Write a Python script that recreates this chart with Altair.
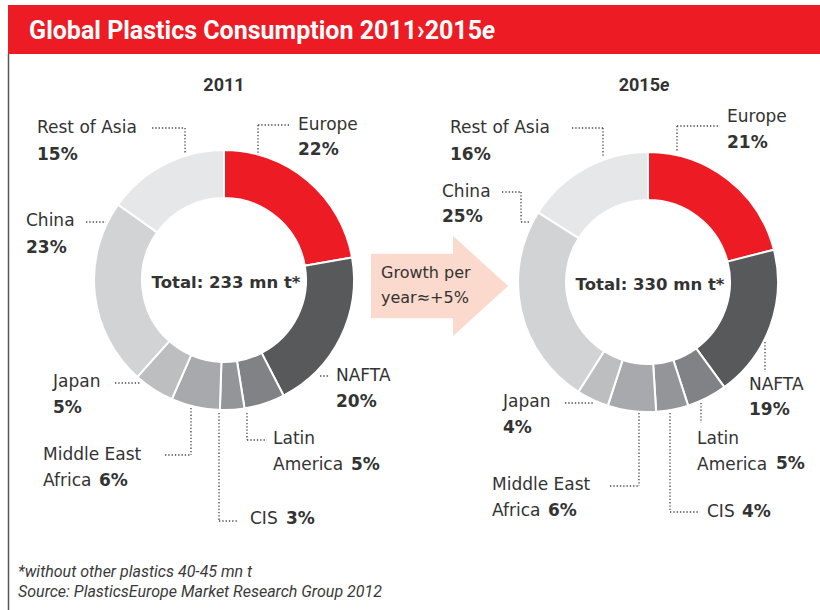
import altair as alt
import pandas as pd

# ---------------- data ----------------
regions = ["Europe", "NAFTA", "Latin America", "CIS", "Middle East Africa",
           "Japan", "China", "Rest of Asia"]
share_2011 = [22, 20, 5, 3, 6, 5, 23, 15]
share_2015 = [21, 19, 5, 4, 6, 4, 25, 16]
year_names = ["2011", "2015"]
year_suffix = ["", "e"]
totals = [233, 330]
growth_text = ["Growth per", "year\u2248+5%"]
title_main = "Global Plastics Consumption 2011\u203a2015"
title_suffix = "e"
footnotes = ["*without other plastics 40-45 mn t",
             "Source: PlasticsEurope Market Research Group 2012"]
name_lines = {"Middle East Africa": ["Middle East", "Africa"],
              "Latin America": ["Latin", "America"]}

# ---------------- styles / layout ----------------
colors = ["#ED1C24", "#58595B", "#808285", "#939598", "#A7A9AC",
          "#BCBEC0", "#D1D3D4", "#E6E7E8"]
TXT = "#333333"
LBL_FONT = "DejaVu Sans"
HDR_FONT = "Roboto"
centers = [(224, 280), (648, 282)]
heading_x = [224, 660]
LINE_H = 26

# label anchor positions per donut: region -> (name_x, name_y, pct_x, pct_y)
label_pos = [
    {"Europe": (298, 125, 298, 150), "NAFTA": (336, 376, 336, 402),
     "Latin America": (273, 439, 351, 465), "CIS": (250, 519, 286, 519),
     "Middle East Africa": (43, 455, 99, 481), "Japan": (53, 382, 53, 408),
     "China": (26, 221, 26, 248), "Rest of Asia": (37, 128, 37, 155)},
    {"Europe": (727, 117, 727, 143), "NAFTA": (749, 385, 749, 410),
     "Latin America": (697, 439, 776, 464), "CIS": (707, 512, 742, 512),
     "Middle East Africa": (492, 485, 548, 511), "Japan": (503, 402, 503, 428),
     "China": (442, 192, 442, 217), "Rest of Asia": (450, 128, 450, 155)},
]
# dotted leader segments (x1, y1, x2, y2)
leaders = [
    (152, 128, 185, 128), (185, 128, 185, 153),
    (258, 125, 290, 125), (258, 125, 258, 155),
    (86, 222, 106, 222),
    (320, 376, 330, 376),
    (115, 383, 140, 383),
    (191, 408, 191, 455), (165, 455, 191, 455),
    (219, 413, 219, 521), (219, 521, 238, 521),
    (247, 413, 247, 440), (247, 440, 267, 440),
    (572, 128, 603, 128), (603, 128, 603, 157),
    (677, 126, 720, 126), (677, 126, 677, 152),
    (502, 192, 521, 192), (521, 192, 521, 222), (521, 222, 530, 222),
    (765, 342, 765, 372),
    (565, 403, 593, 403),
    (639, 413, 639, 486), (610, 486, 639, 486),
    (670, 413, 670, 512), (670, 512, 699, 512),
    (701, 403, 701, 423),
]

# ---------------- build tables ----------------
one = pd.DataFrame({"a": [0]})


def px(field):
    return alt.X(f"{field}:Q", scale=None, axis=None)


def py(field):
    return alt.Y(f"{field}:Q", scale=None, axis=None)


layers = []

# frame
layers.append(alt.Chart(one).mark_rect(color="#ED1C24").encode(
    x=alt.value(8), x2=alt.value(820), y=alt.value(5), y2=alt.value(54)))
layers.append(alt.Chart(one).mark_rule(color="#555555", strokeWidth=1.5).encode(
    x=alt.value(8.5), y=alt.value(54), y2=alt.value(610)))

# title
layers.append(alt.Chart(pd.DataFrame({"t": [title_main]})).mark_text(
    font=HDR_FONT, fontSize=25, fontWeight="bold", color="white",
    align="right", baseline="middle").encode(
    text="t:N", x=alt.value(482), y=alt.value(31)))
layers.append(alt.Chart(pd.DataFrame({"t": [title_suffix]})).mark_text(
    font=HDR_FONT, fontSize=25, fontWeight="bold", fontStyle="italic",
    color="white", align="left", baseline="middle").encode(
    text="t:N", x=alt.value(482), y=alt.value(31)))

# arrow
arrow_path = ("M-1.007,-0.47 L0.19,-0.47 L0.19,-0.73 L0.993,0 L0.19,0.73 "
              "L0.19,0.47 L-1.007,0.47 Z")
layers.append(alt.Chart(one).mark_point(
    shape=arrow_path, filled=True, color="#FBD9CC", opacity=1,
    size=18769, strokeWidth=0).encode(x=alt.value(440), y=alt.value(286)))
layers.append(alt.Chart(pd.DataFrame({"t": growth_text, "y": [273, 298]}))
              .mark_text(font=LBL_FONT, fontSize=16, fontWeight=500, color=TXT,
                         align="left", baseline="middle")
              .encode(text="t:N", x=alt.value(381), y=py("y")))

# donuts
for i, shares in enumerate([share_2011, share_2015]):
    df = pd.DataFrame({"region": regions, "share": shares,
                       "rank": list(range(len(regions)))})
    cx, cy = centers[i]
    layers.append(alt.Chart(df).mark_arc(
        outerRadius=130, innerRadius=82, stroke="white", strokeWidth=2,
        x=cx, y=cy).encode(
        theta=alt.Theta("share:Q", stack="normalize"),
        color=alt.Color("region:N", scale=alt.Scale(domain=regions, range=colors),
                        legend=None),
        order=alt.Order("rank:Q")))

# label tables from data
reg_rows, bold_rows = [], []
for i, shares in enumerate([share_2011, share_2015]):
    for r, s in zip(regions, shares):
        nx, ny, qx, qy = label_pos[i][r]
        for k, line in enumerate(name_lines.get(r, [r])):
            reg_rows.append({"t": line, "x": nx, "y": ny + k * LINE_H})
        bold_rows.append({"t": f"{s}%", "x": qx, "y": qy})

layers.append(alt.Chart(pd.DataFrame(reg_rows)).mark_text(
    font=LBL_FONT, fontSize=17, color=TXT, align="left", baseline="middle"
).encode(text="t:N", x=px("x"), y=py("y")))
layers.append(alt.Chart(pd.DataFrame(bold_rows)).mark_text(
    font=LBL_FONT, fontSize=17, fontWeight="bold", color=TXT, align="left",
    baseline="middle").encode(text="t:N", x=px("x"), y=py("y")))

# totals
tot_df = pd.DataFrame({"t": [f"Total: {v} mn t*" for v in totals],
                       "x": [c[0] + 2 for c in centers],
                       "y": [c[1] + 3 for c in centers]})
layers.append(alt.Chart(tot_df).mark_text(
    font=LBL_FONT, fontSize=16.5, fontWeight="bold", color=TXT, align="center",
    baseline="middle").encode(text="t:N", x=px("x"), y=py("y")))

# headings
head_df = pd.DataFrame({"t": year_names, "x": heading_x, "y": [86, 86],
                        "suf": year_suffix})
layers.append(alt.Chart(head_df.iloc[[0]]).mark_text(
    font=HDR_FONT, fontSize=18, fontWeight="bold", color=TXT, align="center",
    baseline="middle").encode(text="t:N", x=px("x"), y=py("y")))
layers.append(alt.Chart(head_df.iloc[[1]]).mark_text(
    font=HDR_FONT, fontSize=18, fontWeight="bold", color=TXT, align="right",
    baseline="middle").encode(text="t:N", x=px("x"), y=py("y")))
layers.append(alt.Chart(head_df.iloc[[1]]).mark_text(
    font=HDR_FONT, fontSize=18, fontWeight="bold", fontStyle="italic",
    color=TXT, align="left", baseline="middle").encode(
    text="suf:N", x=px("x"), y=py("y")))

# leaders
lead_df = pd.DataFrame(leaders, columns=["x1", "y1", "x2", "y2"])
layers.append(alt.Chart(lead_df).mark_rule(
    color="#444444", strokeWidth=1.3, strokeDash=[1.3, 2]).encode(
    x=px("x1"), y=py("y1"), x2="x2:Q", y2="y2:Q"))

# footnotes
foot_df = pd.DataFrame({"t": footnotes, "y": [572, 592]})
layers.append(alt.Chart(foot_df).mark_text(
    font=HDR_FONT, fontSize=16, fontStyle="italic", color="#3a3a3a",
    align="left", baseline="middle").encode(
    text="t:N", x=alt.value(18), y=py("y")))

chart = alt.layer(*layers).properties(
    width=820, height=610, padding=0,
    autosize=alt.AutoSizeParams(type="none"), background="white"
).configure_view(stroke=None)

chart.save("out.html", embed_options={"renderer": "svg", "actions": False})
